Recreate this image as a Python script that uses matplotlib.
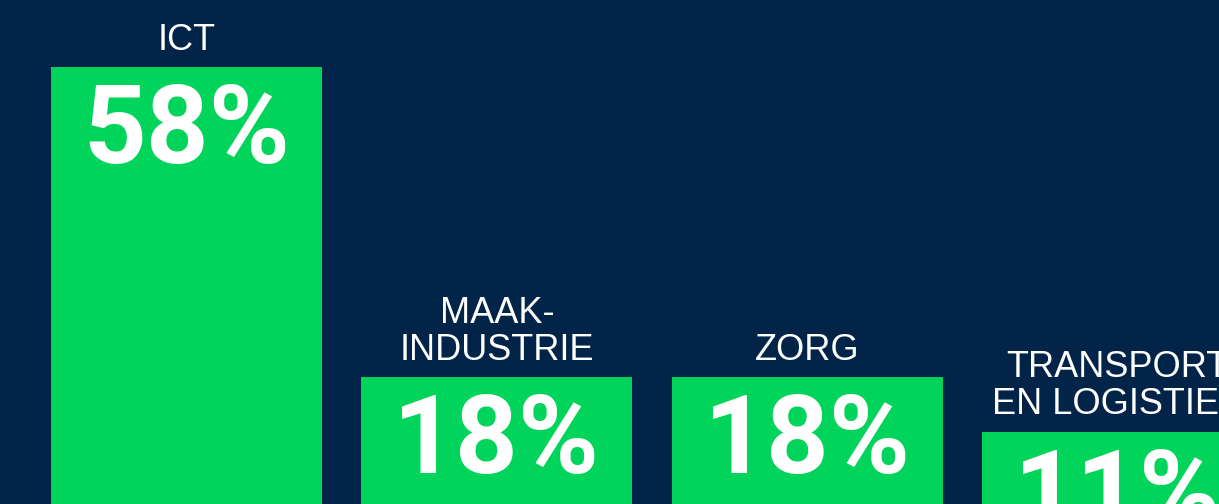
import matplotlib.pyplot as plt

# Data
categories = ["ICT", "MAAK-\nINDUSTRIE", "ZORG", "TRANSPORT\nEN LOGISTIEK"]
values = [58, 18, 18, 11]
value_labels = ["58%", "18%", "18%", "11%"]

NAVY = "#022448"
GREEN = "#00d45a"

plt.rcParams['font.family'] = ['Liberation Sans', 'DejaVu Sans']

fig = plt.figure(figsize=(12.19, 5.04), dpi=100)
fig.patch.set_facecolor(NAVY)
ax = fig.add_axes([0, 0, 1, 1])
ax.set_facecolor(NAVY)

x = list(range(len(categories)))
bars = ax.bar(x, values, width=0.873, color=GREEN, linewidth=0)

ax.set_xlim(-0.601, 3.327)
ax.set_ylim(1.68, 66.7)
ax.axis("off")

for xi, v, cat, lab in zip(x, values, categories, value_labels):
    ax.annotate(cat, (xi, v), xytext=(0, 7), textcoords="offset points",
                ha="center", va="bottom", multialignment="center",
                color="white", fontsize=26, fontweight="normal",
                linespacing=1.08)
    ax.annotate(lab, (xi, v), xytext=(0, -69), textcoords="offset points",
                ha="center", va="baseline", color="white",
                fontsize=79, fontweight="bold", family=["Roboto", "DejaVu Sans"])

fig.savefig("out.png", dpi=100, facecolor=NAVY)
